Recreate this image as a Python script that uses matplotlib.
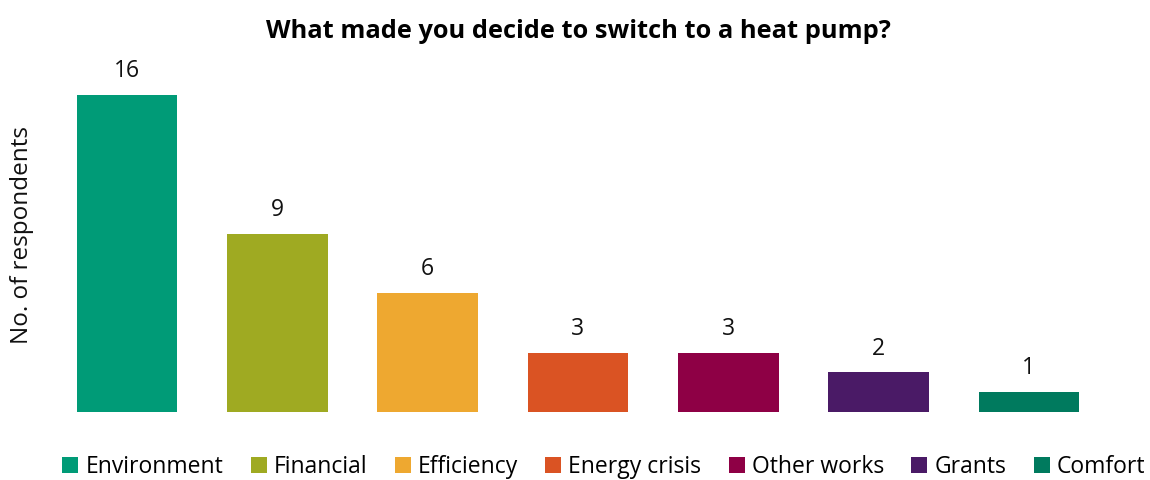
import matplotlib.pyplot as plt
from matplotlib.patches import Patch

# data
categories = ["Environment", "Financial", "Efficiency", "Energy crisis",
              "Other works", "Grants", "Comfort"]
counts = [16, 9, 6, 3, 3, 2, 1]
colors = ["#009B77", "#9FAA22", "#EEA830", "#DA5323",
          "#8E0045", "#4A1A66", "#007A5E"]

plt.rcParams["font.family"] = ["Open Sans", "DejaVu Sans"]

fig = plt.figure(figsize=(11.5, 4.8), dpi=100)
ax = fig.add_axes([0.0452, 0.1417, 0.9148, 0.7423])

x = range(len(categories))
bars = ax.bar(x, counts, width=0.67, color=colors)

for b, v in zip(bars, counts):
    ax.text(b.get_x() + b.get_width() / 2, v + 0.6, str(v),
            ha="center", va="bottom", fontsize=16.5, color="#111111")

ax.set_xlim(-0.5, len(categories) - 0.5)
ax.set_ylim(0, 18)
ax.set_xticks([])
ax.set_yticks([])
for s in ax.spines.values():
    s.set_visible(False)

fig.text(0.019, 0.51, "No. of respondents", rotation=90, ha="center",
         va="center", fontsize=17.5, color="#111111")
fig.text(0.503, 0.935, "What made you decide to switch to a heat pump?",
         ha="center", va="center", fontsize=18.3, fontweight="bold")

handles = [Patch(facecolor=c, label=l) for c, l in zip(colors, categories)]
fig.legend(handles=handles, loc="center", bbox_to_anchor=(0.525, 0.028),
           ncol=7, frameon=False, fontsize=16.5, handlelength=0.7,
           handleheight=0.7, handletextpad=0.3, columnspacing=1.2)

fig.savefig("out.png", dpi=100)
